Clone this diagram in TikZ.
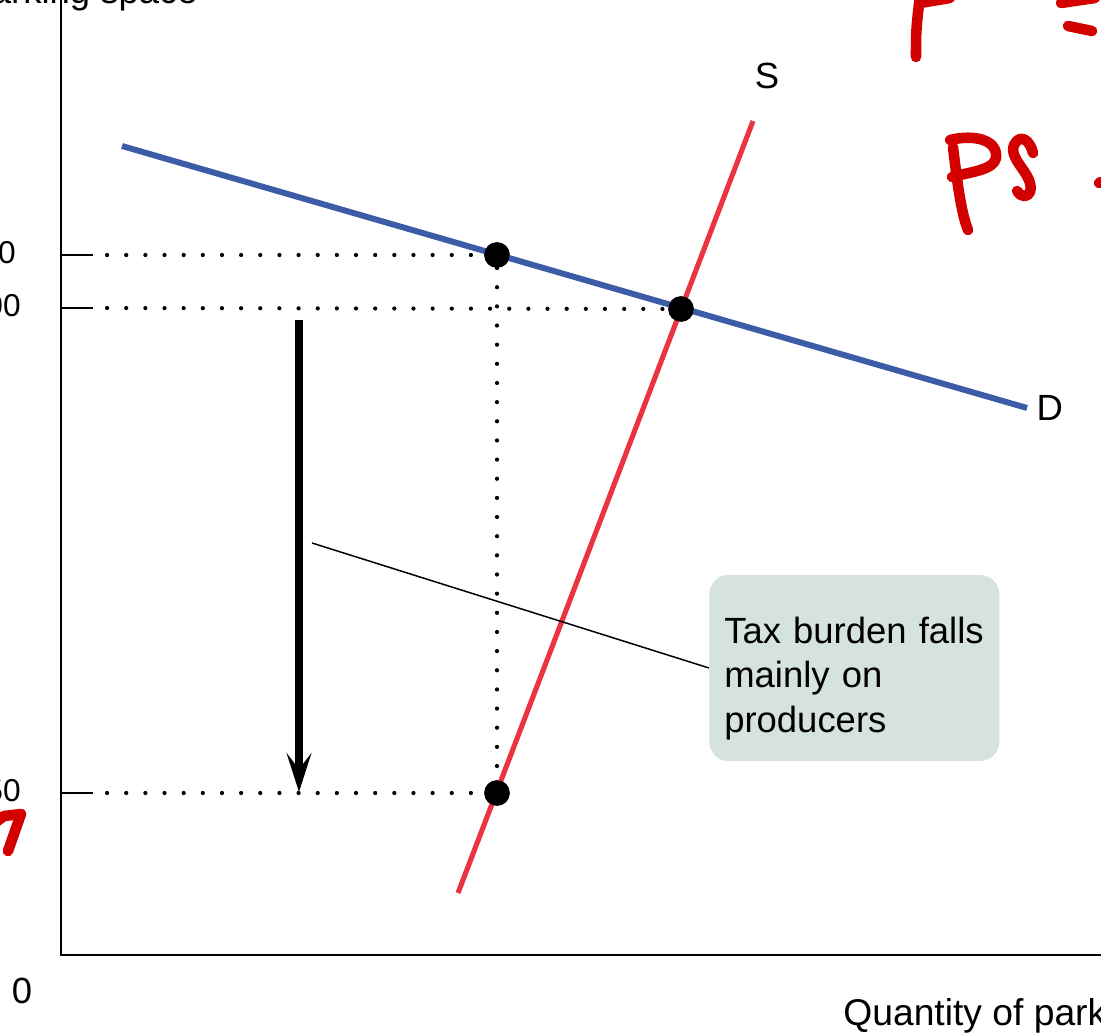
\documentclass[tikz,border=0pt]{standalone}
\usepackage{fontspec}
\setmainfont{Liberation Sans}
\usetikzlibrary{arrows.meta,positioning}
\definecolor{demblue}{HTML}{3C5CA8}
\definecolor{supred}{HTML}{EA3440}
\definecolor{notefill}{HTML}{D6E2E0}
\definecolor{inkred}{HTML}{D30000}

\begin{document}
\begin{tikzpicture}[x=0.02cm, y=-0.02cm,
  font=\fontsize{20.75}{25.5}\selectfont,
  axis/.style={line width=1.1pt},
  tick label/.style={anchor=east, inner sep=0pt, font=\fontsize{18}{22}\selectfont},
  guide/.style={line width=2.4pt, line cap=round, dash pattern=on 0pt off 10.9pt},
  dot/.style={circle, fill=black, inner sep=0pt, minimum size=14.5pt},
  demand/.style={draw=demblue, line width=3.4pt},
  supply/.style={draw=supred, line width=2.9pt},
  drop/.style={line width=5pt, -{Stealth[length=22pt, width=14pt, inset=9pt]}},
  note/.style={fill=notefill, rounded corners=11pt, align=left,
               text width=148pt, inner xsep=8.5pt, minimum height=106pt},
  hand/.style={draw=inkred, line width=6pt, line cap=round, line join=round}]

\useasboundingbox (0,0) rectangle (1101,1033);
\clip (0,0) rectangle (1101,1033);

% axes
\coordinate (ytop) at (61,-10);
\coordinate (O) at (61,955);
\coordinate (xend) at (1110,955);
\draw[axis] (ytop) -- (O) -- (xend);
\node[anchor=base east, inner sep=0pt] (ylab) at (198,4) {Price per parking space};
\node[anchor=base west, inner sep=0pt, font=\fontsize{21.2}{25}\selectfont]
  (xlab) at (843,1025) {Quantity of parking spaces};
\node (zero) at (22,991) {0};

% price ticks
\foreach \n/\y/\r/\t in {hi/255/16/\$110, eq/308/21/\$100, lo/793/21/\$50} {
  \coordinate (t\n) at (93,\y);
  \draw[axis] (61,\y) -- (t\n);
  \node[tick label] (p\n) at (\r,\y-2) {\t};
}

% points
\node[dot] (A) at (497,255) {};
\node[dot] (E) at (681,309) {};
\node[dot] (B) at (497,793) {};

\draw[guide, shorten <=8pt] (thi) -- (A);
\draw[guide, shorten <=8pt] (teq) -- (E);
\draw[guide, shorten <=8pt] (tlo) -- (B);
\draw[guide] (A) -- (B);

% curves
\coordinate (d1) at (122,146);
\coordinate (d2) at (1027,408);
\coordinate (s1) at (458,893);
\coordinate (s2) at (753,121);
\draw[demand] (d1) -- (d2);
\draw[supply] (s1) -- (s2);
\node (S) at (767,76) {S};
\node[right=2pt of d2] (D) {D};
\node[dot] at (A) {};
\node[dot] at (E) {};
\node[dot] at (B) {};

% tax burden
\coordinate (a1) at (299,320);
\coordinate (a2) at (299,792);
\draw[drop] (a1) -- (a2);

\coordinate (lead) at (312,543);
\node[note, anchor=west] (note) at (709,668)
  {\rule{0pt}{27pt}Tax burden falls\\mainly on\\producers};
\draw[line width=0.85pt] (lead) -- (note.west);

% red ink marks
\draw[hand] (916,57) .. controls (916,30) .. (920,-5);
\draw[hand] (920,3) -- (950,-2);
\draw[hand] (1061,3) -- (1095,-2);
\draw[hand] (1068,26) -- (1092,31);
\draw[hand] (953,147) .. controls (958,190) and (962,215) .. (968,230);
\draw[hand] (950,140) .. controls (975,134) and (998,140) .. (996,158)
  .. controls (994,170) and (970,172) .. (952,177);
\draw[hand] (1033,153) .. controls (1030,140) and (1020,133) .. (1014,145)
  .. controls (1008,160) and (1035,175) .. (1030,192)
  .. controls (1028,198) and (1020,197) .. (1017,191);
\draw[hand] (1099,183) -- (1101,182);
\draw[hand] (-4,822) -- (4,816) -- (21,814) -- (8,851);
\end{tikzpicture}
\end{document}
